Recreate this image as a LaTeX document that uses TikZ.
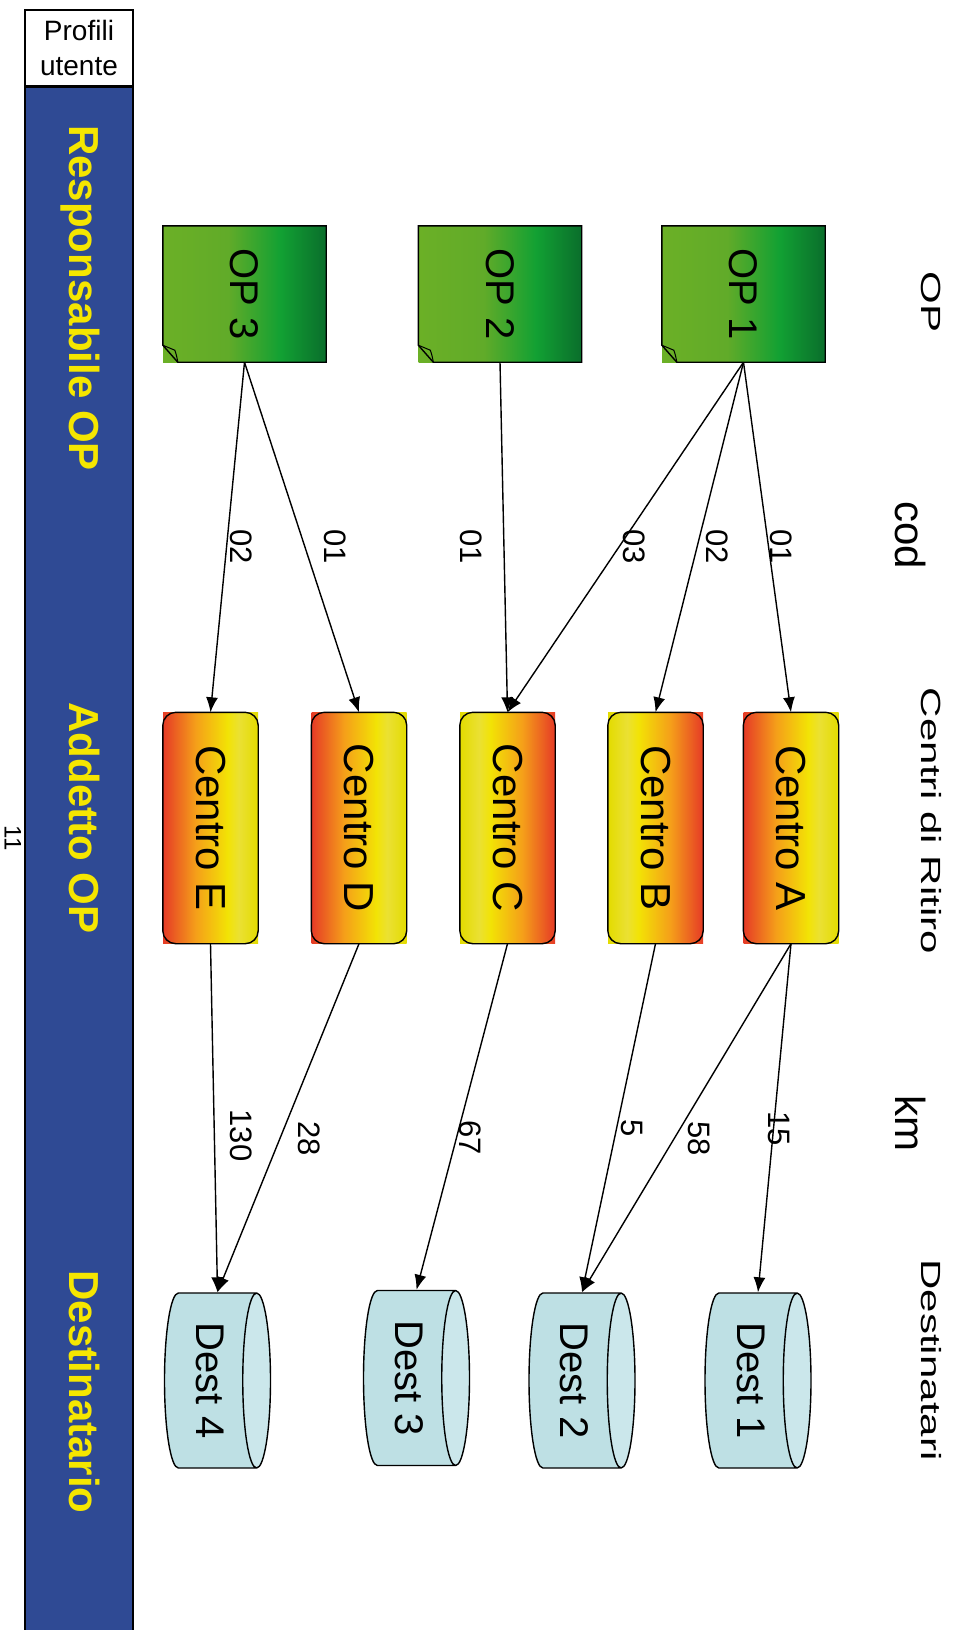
\documentclass[tikz,border=0pt]{standalone}
\usepackage{fontspec}
\setmainfont{Liberation Sans}
\usepackage{graphicx}
\usetikzlibrary{shapes.geometric,arrows.meta}

\definecolor{barblue}{RGB}{47,74,148}
\definecolor{baryellow}{RGB}{245,230,0}
\definecolor{destbody}{RGB}{190,224,228}
\definecolor{destend}{RGB}{203,231,235}

\pgfdeclarehorizontalshading{opgreen}{100bp}{rgb(0bp)=(0.42,0.69,0.15); rgb(25bp)=(0.42,0.69,0.15); rgb(45bp)=(0.38,0.67,0.16); rgb(61bp)=(0.07,0.63,0.2); rgb(75bp)=(0.04,0.43,0.17); rgb(100bp)=(0.04,0.43,0.17)}
\pgfdeclarehorizontalshading{redyellow}{100bp}{rgb(0bp)=(0.9,0.23,0.15); rgb(25bp)=(0.9,0.23,0.15); rgb(42bp)=(0.96,0.62,0.1); rgb(59bp)=(0.95,0.89,0.02); rgb(65bp)=(0.92,0.88,0.2); rgb(75bp)=(0.89,0.86,0.0); rgb(100bp)=(0.89,0.86,0.0)}
\pgfdeclarehorizontalshading{yellowred}{100bp}{rgb(0bp)=(0.89,0.86,0.0); rgb(25bp)=(0.89,0.86,0.0); rgb(35bp)=(0.92,0.88,0.2); rgb(41bp)=(0.95,0.89,0.02); rgb(58bp)=(0.96,0.62,0.1); rgb(75bp)=(0.9,0.23,0.15); rgb(100bp)=(0.9,0.23,0.15)}

\newcommand{\vtext}[1]{\rotatebox{-90}{#1}}

\begin{document}
\begin{tikzpicture}[x=1pt, y=1pt,
    opbox/.style={shading=opgreen, minimum width=163pt, minimum height=136pt, inner sep=0pt, font=\fontsize{40}{48}\selectfont},
    centro/.style={minimum width=95pt, minimum height=231pt, inner sep=0pt, font=\fontsize{42}{48}\selectfont},
    dest/.style={cylinder, draw, line width=1.4pt, aspect=0.24, anchor=shape center, minimum height=106pt, minimum width=175pt, inner sep=0pt, cylinder uses custom fill, cylinder body fill=destbody, cylinder end fill=destend, font=\fontsize{40}{48}\selectfont},
    head/.style={rotate=-90, anchor=base, inner sep=0pt, font=\fontsize{42}{48}\selectfont},
    role/.style={rotate=-90, anchor=base, inner sep=0pt, text=baryellow, font=\fontsize{42}{48}\selectfont\bfseries},
    lbl/.style={rotate=-90, inner sep=0pt, font=\fontsize{31}{36}\selectfont},
    arrow/.style={-{Latex[length=15pt,width=12pt]}, line width=1.4pt}
]
\useasboundingbox (0,0) rectangle (962,-1630);

% user profiles column
\node[draw, line width=1.4pt, minimum width=108pt, minimum height=76pt, inner sep=0pt, align=center, font=\fontsize{28}{35}\selectfont] (profili) at (79,-48) {Profili\\utente};
\node[draw, line width=1.4pt, fill=barblue, minimum width=108pt, minimum height=1570pt, anchor=north] (bar) at (profili.south) {};
\node[role] (resp) at (69,-298) {Responsabile OP};
\node[role] (addetto) at (69,-818) {Addetto OP};
\node[role] (destinatario) at (69,-1392) {Destinatario};
\node[rotate=-90, inner sep=0pt, font=\fontsize{24}{26}\selectfont] (pagenum) at (13,-838) {11};

% column headers
\node[head] (hop) at (921,-302) {\scalebox{1}[0.66]{OP}};
\node[head] (hcod) at (895,-535) {cod};
\node[head] (hcentri) at (921,-821) {\scalebox{1}[0.66]{Centri di Ritiro}};
\node[head] (hkm) at (895,-1123) {km};
\node[head] (hdest) at (921,-1360) {\scalebox{1}[0.66]{Destinatari}};

% OP
\node[opbox] (op3) at (244.5,-294) {\vtext{OP 3}};
\node[opbox] (op2) at (500,-294) {\vtext{OP 2}};
\node[opbox] (op1) at (743.5,-294) {\vtext{OP 1}};
\foreach \o in {op1,op2,op3} {
  \draw[line width=1.4pt] ([xshift=15pt]\o.south west) -- (\o.south east) -- (\o.north east) -- (\o.north west) -- ([yshift=17pt]\o.south west) -- cycle;
  \draw[line width=1pt] ([yshift=17pt]\o.south west) -- ([xshift=12pt,yshift=12pt]\o.south west) to[out=-70,in=100] ([xshift=15pt]\o.south west);
}

% centri di ritiro
\node[centro, shading=redyellow] (ca) at (791,-828) {\vtext{Centro A}};
\node[centro, shading=yellowred] (cb) at (655.5,-828) {\vtext{Centro B}};
\node[centro, shading=yellowred] (cc) at (507.5,-828) {\vtext{Centro C}};
\node[centro, shading=redyellow] (cd) at (359,-828) {\vtext{Centro D}};
\node[centro, shading=redyellow] (ce) at (210.5,-828) {\vtext{Centro E}};
\foreach \c in {ca,cb,cc,cd,ce}
  \draw[line width=1.4pt, rounded corners=13pt] (\c.south west) rectangle (\c.north east);

% destinatari
\node[dest] (d1) at (758,-1380.5) {\vtext{Dest 1}};
\node[dest] (d2) at (582,-1380.5) {\vtext{Dest 2}};
\node[dest] (d3) at (416.5,-1378) {\vtext{Dest 3}};
\node[dest] (d4) at (217.5,-1380.5) {\vtext{Dest 4}};

% codes
\draw[arrow] (op1.south) -- (ca.north) node[pos=.526, xshift=13pt, lbl] {01};
\draw[arrow] (op1.south) -- (cb.north) node[pos=.526, xshift=20pt, lbl] {02};
\draw[arrow] (op1.south) -- (cc.north) node[pos=.526, xshift=15pt, lbl] {03};
\draw[arrow] (op2.south) -- (cc.north) node[pos=.526, xshift=-33pt, lbl] {01};
\draw[arrow] (op3.south) -- (cd.north) node[pos=.526, xshift=30pt, lbl] {01};
\draw[arrow] (op3.south) -- (ce.north) node[pos=.526, xshift=15pt, lbl] {02};

% km
\draw[arrow] (ca.south) -- (d1.shape center |- d1.north) node[pos=.53, xshift=5pt, lbl] {15};
\draw[arrow] (ca.south) -- (d2.shape center |- d2.north) node[pos=.56, xshift=25pt, lbl] {58};
\draw[arrow] (cb.south) -- (d2.shape center |- d2.north) node[pos=.53, xshift=15pt, lbl] {5};
\draw[arrow] (cc.south) -- (d3.shape center |- d3.north) node[pos=.56, xshift=14pt, lbl] {67};
\draw[arrow] (cd.south) -- (d4.shape center |- d4.north) node[pos=.56, xshift=29pt, lbl] {28};
\draw[arrow] (ce.south) -- (d4.shape center |- d4.north) node[pos=.55, xshift=27pt, lbl] {130};
\end{tikzpicture}
\end{document}
